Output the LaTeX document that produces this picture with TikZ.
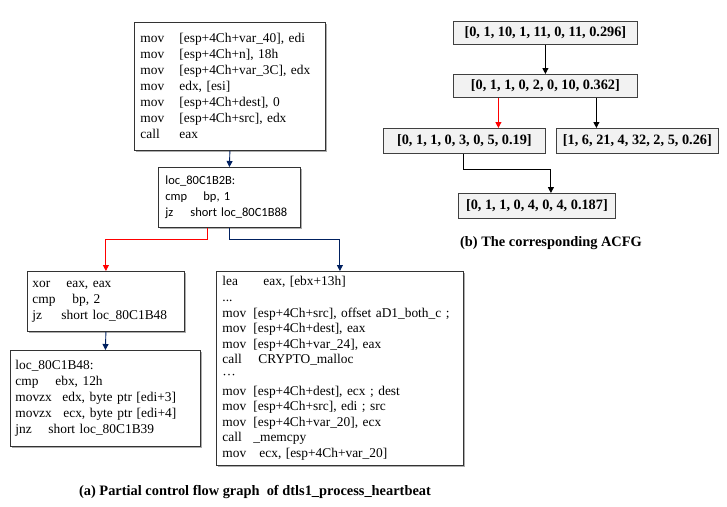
\documentclass[tikz,border=0pt]{standalone}
\usepackage{fontspec}
\setmainfont{Liberation Serif}
\newfontfamily\calibri{Carlito}
\usetikzlibrary{arrows.meta,shadows,positioning}

\definecolor{navyline}{RGB}{0,32,96}
\definecolor{boxgray}{RGB}{242,242,242}

% one instruction: mnemonic padded to a width, then operands
\newcommand\ins[3][39pt]{\makebox[#1][l]{#2}#3\\}

\tikzset{
	codebox/.style={draw=black!80, fill=white, line width=0.8pt, anchor=north west,
		align=left, inner ysep=0pt, font=\fontsize{13.4}{16}\selectfont,
		drop shadow={shadow xshift=1.3pt, shadow yshift=-1.3pt, fill=black!40, opacity=0.8}},
	featbox/.style={draw=black!75, fill=boxgray, line width=0.8pt, anchor=north west,
		inner sep=0pt, font=\fontsize{14.3}{16}\selectfont\bfseries},
	arr/.style={line width=0.9pt, -{Triangle[length=6pt,width=6pt]}},
	caption/.style={font=\fontsize{14.4}{16}\selectfont\bfseries},
}

\begin{document}
\begin{tikzpicture}[x=1pt,y=-1pt]
	\useasboundingbox (0,0) rectangle (727,506);

	% (a) control flow graph
	\node[codebox, inner xsep=6pt, text width=179pt, minimum height=128pt] (blk1) at (134,22) {%
		\ins{mov}{[esp+4Ch+var\_40], edi}
		\ins{mov}{[esp+4Ch+n], 18h}
		\ins{mov}{[esp+4Ch+var\_3C], edx}
		\ins{mov}{edx, [esi]}
		\ins{mov}{[esp+4Ch+dest], 0}
		\ins{mov}{[esp+4Ch+src], edx}
		\ins{call}{eax}};
	\node[codebox, inner xsep=7pt, text width=128pt, minimum height=60pt,
		font=\calibri\fontsize{12.5}{16}\selectfont] (blk2) at (158,167) {%
		loc\_80C1B2B:\\
		\ins[38pt]{cmp}{bp, 1}
		\ins[25pt]{jz}{short loc\_80C1B88}};
	\node[codebox, inner xsep=5pt, text width=147pt, minimum height=60pt] (blk3) at (27,271) {%
		\ins[34pt]{xor}{eax, eax}
		\ins[40pt]{cmp}{bp, 2}
		\ins[29pt]{jz}{short loc\_80C1B48}};
	\node[codebox, inner xsep=5pt, text width=180pt, minimum height=96pt] (blk5) at (10,350) {%
		loc\_80C1B48:\\
		\ins[40pt]{cmp}{ebx, 12h}
		\ins[47pt]{movzx}{edx, byte ptr [edi+3]}
		\ins[48pt]{movzx}{ecx, byte ptr [edi+4]}
		\ins[33pt]{jnz}{short loc\_80C1B39}};
	\node[codebox, inner xsep=6pt, text width=235pt, minimum height=194pt,
		font=\fontsize{13.4}{15.6}\selectfont] (blk4) at (216,271) {%
		\ins[41pt]{lea}{eax, [ebx+13h]}
		...\\
		\ins[31pt]{mov}{[esp+4Ch+src], offset aD1\_both\_c ;}
		\ins[31pt]{mov}{[esp+4Ch+dest], eax}
		\ins[31pt]{mov}{[esp+4Ch+var\_24], eax}
		\ins[36pt]{call}{CRYPTO\_malloc}
		\textperiodcentered\textperiodcentered\textperiodcentered\\
		\ins[31pt]{mov}{[esp+4Ch+dest], ecx ; dest}
		\ins[31pt]{mov}{[esp+4Ch+src], edi ; src}
		\ins[31pt]{mov}{[esp+4Ch+var\_20], ecx}
		\ins[31pt]{call}{\_memcpy}
		\ins[37pt]{mov}{ecx, [esp+4Ch+var\_20]}};

	\draw[arr, navyline] (blk1.south) -- (blk2.north);
	\draw[arr, red] ([xshift=-22pt]blk2.south) -- ++(0,12) -| (blk3.north);
	\draw[arr, navyline] (blk2.south) -- ++(0,12) -| (blk4.north);
	\draw[arr, navyline] (blk3.south) -- (blk5.north);

	\node[caption] (capa) at (255,492) {(a) Partial control flow graph\ \ of dtls1\_process\_heartbeat};

	% (b) attributed CFG
	\node[featbox, minimum width=184pt, minimum height=23pt] (fa) at (453,21) {[0, 1, 10, 1, 11, 0, 11, 0.296]};
	\node[featbox, minimum width=184pt, minimum height=23pt] (fb) at (453,74) {[0, 1, 1, 0, 2, 0, 10, 0.362]};
	\node[featbox, minimum width=162pt, minimum height=25pt] (fc) at (383,128) {[0, 1, 1, 0, 3, 0, 5, 0.19]};
	\node[featbox, minimum width=162pt, minimum height=25pt] (fd) at (556,128) {[1, 6, 21, 4, 32, 2, 5, 0.26]};
	\node[featbox, minimum width=157pt, minimum height=25pt] (fe) at (458,193) {[0, 1, 1, 0, 4, 0, 4, 0.187]};

	\draw[arr] (fa.south) -- (fb.north);
	\draw[arr, red] ([xshift=-47pt]fb.south) coordinate (rb) -- (rb |- fc.north);
	\draw[arr] ([xshift=51pt]fb.south) coordinate (kb) -- (kb |- fd.north);
	\draw[arr] ([xshift=-1pt]fc.south) -- ++(0,16) -| ([xshift=14pt]fe.north);

	\node[caption] (capb) at (551,243) {(b) The corresponding ACFG};
\end{tikzpicture}
\end{document}
